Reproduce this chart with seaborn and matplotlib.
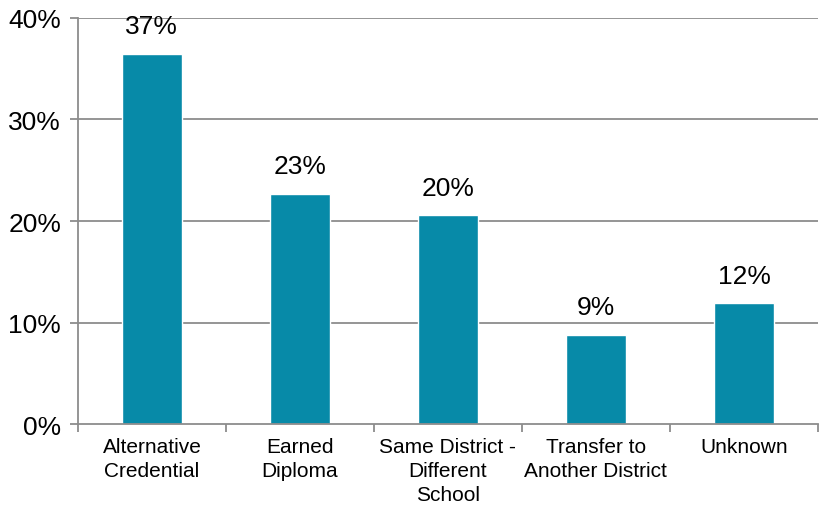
import numpy as np
import pandas as pd
import matplotlib
matplotlib.use("Agg")
import matplotlib.pyplot as plt
import seaborn as sns

# values (percent)
categories = ["Alternative\nCredential", "Earned\nDiploma", "Same District -\nDifferent\nSchool",
              "Transfer to\nAnother District", "Unknown"]
values = [36.5, 22.7, 20.6, 8.8, 11.9]
labels = ["37%", "23%", "20%", "9%", "12%"]
yticks = [0, 10, 20, 30, 40]

sns.set_style("white")
plt.rcParams['font.family'] = ['Liberation Sans', 'DejaVu Sans']

df = pd.DataFrame({"category": categories, "value": values})

fig = plt.figure(figsize=(8.2, 5.06), dpi=100)
ax = fig.add_axes([0.095, 0.16, 0.9025, 0.8025])

grid_color = "#8c8c8c"
for y in yticks[1:]:
    ax.axhline(y, color=grid_color, lw=1.3, zorder=0)

sns.barplot(data=df, x="category", y="value", color="#078aa8", width=0.4,
            saturation=1, ax=ax, zorder=2)

for i, (v, lab) in enumerate(zip(values, labels)):
    ax.text(i, v + 1.5, lab, ha="center", va="bottom", fontsize=19, color="black")

ax.set_xlim(-0.5, len(categories) - 0.5)
ax.set_ylim(0, 40)
ax.set_yticks(yticks)
ax.set_yticklabels([f"{t}%" for t in yticks], fontsize=19, color="black")
ax.set_xticks(range(len(categories)))
ax.set_xticklabels(categories, fontsize=15, linespacing=1.35, color="black")
ax.tick_params(axis="x", length=0, pad=9)
ax.tick_params(axis="y", length=6, width=1.3, color=grid_color, left=True, pad=6)
# category boundary ticks
ax.set_xticks(np.arange(-0.5, len(categories)), minor=True)
ax.tick_params(axis="x", which="minor", length=6, width=1.3, color=grid_color, bottom=True)
ax.set_xlabel("")
ax.set_ylabel("")

for side in ["top", "right"]:
    ax.spines[side].set_visible(False)
for side in ["left", "bottom"]:
    ax.spines[side].set_color(grid_color)
    ax.spines[side].set_linewidth(1.3)

fig.savefig("out.png", dpi=100)
